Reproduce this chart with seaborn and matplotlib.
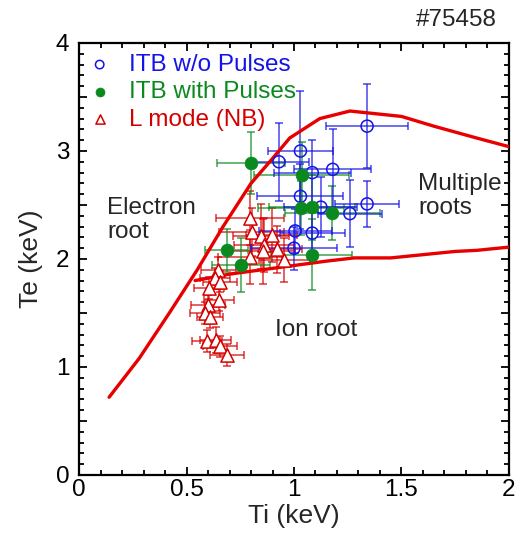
import matplotlib
matplotlib.use("Agg")
import matplotlib.pyplot as plt
import seaborn as sns
import numpy as np
import pandas as pd
from matplotlib.ticker import MultipleLocator, FuncFormatter

# ---- data ----
upper_ti = [0.14, 0.28, 0.42, 0.55, 0.67, 0.80, 0.90, 0.98, 1.12, 1.26, 1.50, 1.65, 1.85, 2.0]
upper_te = [0.72, 1.08, 1.50, 1.90, 2.30, 2.70, 2.93, 3.12, 3.30, 3.37, 3.32, 3.23, 3.12, 3.04]
lower_ti = [0.54, 0.70, 0.85, 1.0, 1.15, 1.28, 1.45, 1.6, 1.75, 1.85, 2.0]
lower_te = [1.80, 1.86, 1.90, 1.94, 1.98, 2.01, 2.01, 2.04, 2.07, 2.08, 2.11]

blue_ti = [1.34, 1.03, 0.93, 1.085, 1.18, 1.03, 1.125, 1.26, 1.34, 1.005, 1.085, 1.0]
blue_te = [3.23, 3.00, 2.90, 2.80, 2.83, 2.58, 2.48, 2.42, 2.51, 2.26, 2.24, 2.10]
blue_ti_err = [0.19, 0.15, 0.14, 0.18, 0.18, 0.20, 0.17, 0.15, 0.15, 0.17, 0.15, 0.20]
blue_te_err = [0.39, 0.56, 0.36, 0.30, 0.37, 0.30, 0.28, 0.31, 0.21, 0.20, 0.20, 0.20]

green_ti = [0.80, 1.036, 1.033, 1.082, 1.178, 0.687, 0.752, 1.082]
green_te = [2.89, 2.78, 2.47, 2.48, 2.43, 2.08, 1.94, 2.04]
green_ti_err = [0.16, 0.22, 0.20, 0.20, 0.22, 0.10, 0.135, 0.19]
green_te_err = [0.29, 0.30, 0.25, 0.30, 0.25, 0.20, 0.25, 0.33]

red_ti = [0.795, 0.803, 0.845, 0.896, 0.862, 0.854, 0.919, 0.955, 0.795, 0.648, 0.633,
          0.656, 0.605, 0.653, 0.60, 0.586, 0.609, 0.594, 0.635, 0.656, 0.687]
red_te = [2.38, 2.25, 2.21, 2.22, 2.13, 2.07, 2.09, 1.99, 2.02, 1.90, 1.82,
          1.79, 1.73, 1.62, 1.57, 1.50, 1.46, 1.24, 1.25, 1.19, 1.11]
red_ti_err = [0.16, 0.15, 0.13, 0.12, 0.14, 0.15, 0.12, 0.12, 0.15, 0.08, 0.07,
              0.08, 0.07, 0.07, 0.08, 0.07, 0.06, 0.07, 0.07, 0.08, 0.08]
red_te_err = [0.25, 0.22, 0.30, 0.25, 0.25, 0.30, 0.22, 0.20, 0.25, 0.12, 0.10,
              0.10, 0.10, 0.10, 0.10, 0.10, 0.10, 0.10, 0.12, 0.10, 0.10]

labels = ["ITB w/o Pulses", "ITB with Pulses", "L mode (NB)"]
x_ticklabels = ["0", "0.5", "1", "1.5", "2"]

# ---- style ----
sns.set_theme(style="ticks")
plt.rcParams['font.family'] = ['Liberation Sans', 'DejaVu Sans']

BLUE = "#1414e6"
GREEN = "#0a8a1e"
RED = "#d40000"
LINE_RED = "#e80000"

fig = plt.figure(figsize=(5.25, 5.34), dpi=100)
ax = fig.add_axes([0.1505, 0.1105, 0.819, 0.809])

# error bars
ebkw = dict(fmt="none", elinewidth=1.2, capsize=2.8, capthick=1.2, alpha=0.72, zorder=2)
ax.errorbar(red_ti, red_te, xerr=red_ti_err, yerr=red_te_err, ecolor=RED, **ebkw)
ax.errorbar(green_ti, green_te, xerr=green_ti_err, yerr=green_te_err, ecolor=GREEN, **ebkw)
ax.errorbar(blue_ti, blue_te, xerr=blue_ti_err, yerr=blue_te_err, ecolor=BLUE, **ebkw)

# curves
sns.lineplot(x=upper_ti, y=upper_te, sort=False, estimator=None, color=LINE_RED,
             linewidth=2.4, ax=ax, zorder=3)
sns.lineplot(x=lower_ti, y=lower_te, sort=False, estimator=None, color=LINE_RED,
             linewidth=2.4, ax=ax, zorder=3)

# markers
sns.scatterplot(x=blue_ti, y=blue_te, marker="o", s=75, facecolor="none",
                edgecolor=BLUE, linewidth=1.1, ax=ax, zorder=5, label=labels[0])
sns.scatterplot(x=green_ti, y=green_te, marker="o", s=85, color=GREEN,
                edgecolor=GREEN, linewidth=0.5, ax=ax, zorder=5, label=labels[1])
sns.scatterplot(x=red_ti, y=red_te, marker="^", s=90, facecolor="white",
                edgecolor=RED, linewidth=1.1, ax=ax, zorder=4, label=labels[2])

ax.set_xlim(0, 2)
ax.set_ylim(0, 4)
ax.xaxis.set_major_locator(MultipleLocator(0.5))
ax.xaxis.set_minor_locator(MultipleLocator(0.1))
ax.yaxis.set_major_locator(MultipleLocator(0.5))
ax.yaxis.set_minor_locator(MultipleLocator(0.1))
ax.xaxis.set_major_formatter(FuncFormatter(lambda v, p: x_ticklabels[int(round(v * 2))] if 0 <= round(v * 2) < len(x_ticklabels) else ""))
ax.yaxis.set_major_formatter(FuncFormatter(lambda v, p: f"{int(round(v))}" if abs(v - round(v)) < 1e-6 else ""))
ax.tick_params(which="both", direction="in", top=True, right=True, width=1.3, colors="black",
               labelsize=17.5)
ax.tick_params(axis="x", which="major", pad=3)
ax.tick_params(axis="y", which="major", pad=7)
ax.tick_params(which="major", length=6)
ax.tick_params(which="minor", length=3.5)
for sp in ax.spines.values():
    sp.set_linewidth(1.6)
    sp.set_color("black")

ax.set_xlabel("Ti (keV)", fontsize=19, labelpad=2)
ax.set_ylabel("Te (keV)", fontsize=19, labelpad=9)

# annotations
ax.text(0.13, 2.36, "Electron\nroot", fontsize=17.5, ha="left", va="center", linespacing=1.1)
ax.text(1.577, 2.58, "Multiple\nroots", fontsize=17.5, ha="left", va="center", linespacing=1.1)
ax.text(0.912, 1.34, "Ion root", fontsize=17.5, ha="left", va="center")
fig.text(497 / 525, 1 - 20 / 534, "#75458", fontsize=17.5, ha="right", va="center")

leg = ax.legend(loc="upper left", frameon=False, fontsize=17.5, handlelength=0.8,
                handletextpad=0.8, labelspacing=0.22, borderaxespad=0.25, borderpad=0.2,
                markerscale=0.7)
for txt, col in zip(leg.get_texts(), [BLUE, GREEN, RED]):
    txt.set_color(col)

fig.savefig("out.png", dpi=100)
